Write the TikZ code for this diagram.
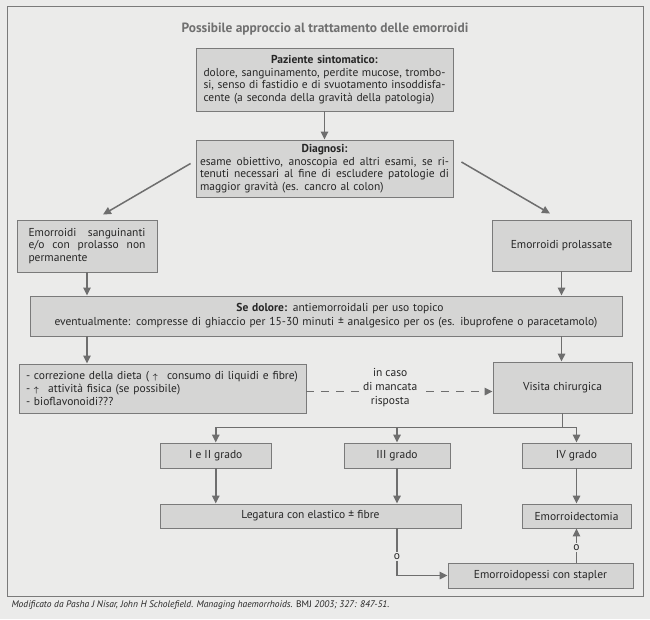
\documentclass[tikz,border=0pt]{standalone}
\usepackage{fontspec}
\setmainfont{PT Sans}
\usetikzlibrary{arrows.meta,calc}
\definecolor{bgpaper}{HTML}{EBEBEA}
\definecolor{boxfill}{HTML}{D5D5D4}
\definecolor{boxline}{HTML}{7A7A7A}
\definecolor{arrgray}{HTML}{6E6E6E}
\definecolor{txt}{HTML}{262626}
\definecolor{titlegray}{HTML}{707070}
\newcommand{\jline}[1]{\hbox to \linewidth{\spaceskip=0.25em plus 1fil minus 0.1em\relax #1}}
\newcommand{\lline}[1]{\hbox to \linewidth{#1\hfil}}
\newcommand{\centrato}[1]{\hbox to \linewidth{\hfil #1\hfil}}
\newcommand{\freccia}{{\fontsize{8.5}{8.5}\selectfont$\boldsymbol{\uparrow}$}}
\usepackage{amsmath}
\tikzset{
  boxnode/.style={draw=boxline, fill=boxfill, line width=0.9pt, inner sep=0pt, text=txt,
    font=\fontsize{11.5}{12.5}\selectfont},
  arr/.style={draw=arrgray, line width=1.5pt, -{Triangle[length=8pt,width=7.5pt]}},
  linea/.style={draw=arrgray, line width=1.5pt},
  olabel/.style={fill=bgpaper, inner sep=1.5pt, text=txt, font=\fontsize{11.5}{12}\selectfont},
}

\begin{document}
\begin{tikzpicture}[x=1pt,y=-1pt]
  %%%%% START %%%%%
  \fill[bgpaper] (0,0) rectangle (650,619);
  \useasboundingbox (0,0) rectangle (650,619);
  \draw[boxline, line width=0.9pt] (7,6) rectangle (643,596);

  \node[text=titlegray, font=\fontsize{13.4}{15}\selectfont\bfseries] (titolo) at (325,29)
    {Possibile approccio al trattamento delle emorroidi};

  \node[boxnode, minimum width=257, minimum height=63, text width=242] (paziente) at (324.5,79.5) {%
    \centrato{\bfseries Paziente sintomatico:}
    \jline{dolore, sanguinamento, perdite mucose, trombo-}
    \jline{si, senso di fastidio e di svuotamento insoddisfa-}
    \lline{cente (a seconda della gravità della patologia)}};

  \node[boxnode, minimum width=257, minimum height=57, text width=249] (diagnosi) at (324.5,168.5) {%
    \centrato{\bfseries Diagnosi:}
    \jline{esame obiettivo, anoscopia ed altri esami, se ri-}
    \jline{tenuti necessari al fine di escludere patologie di}
    \lline{maggior gravità (es. cancro al colon)}};

  \node[boxnode, minimum width=140, minimum height=52, text width=117] (sang) at (87,246) {%
    \jline{Emorroidi sanguinanti}
    \jline{e/o con prolasso non}
    \lline{permanente}};

  \node[boxnode, minimum width=139, minimum height=51] (prol) at (561.5,245.5) {Emorroidi prolassate};

  \node[boxnode, minimum width=592, minimum height=40, text width=582,
    font=\fontsize{11.5}{14}\selectfont] (dolore) at (326,316) {%
    \centrato{\hskip 28pt\textbf{Se dolore:} antiemorroidali per uso topico}
    \centrato{eventualmente: compresse di ghiaccio per 15-30 minuti ± analgesico per os (es. ibuprofene o paracetamolo)}};

  \node[boxnode, minimum width=287, minimum height=49, text width=273,
    font=\fontsize{11.5}{13}\selectfont] (dieta) at (162.5,388.5) {%
    \lline{- correzione della dieta ( \freccia\ consumo di liquidi e fibre)}
    \lline{- \freccia\ attività fisica (se possibile)}
    \lline{- bioflavonoidi???}};

  \node[boxnode, minimum width=139, minimum height=51] (visita) at (562.5,387.5) {Visita chirurgica};

  \node[boxnode, minimum width=111.5, minimum height=25] (gr12) at (215.75,455.5) {I e II grado};
  \node[boxnode, minimum width=106, minimum height=25] (gr3) at (397,455.5) {III grado};
  \node[boxnode, minimum width=109, minimum height=25] (gr4) at (576.5,455.5) {IV grado};

  \node[boxnode, minimum width=301, minimum height=24] (leg) at (310.5,516) {Legatura con elastico ± fibre};
  \node[boxnode, minimum width=109, minimum height=24] (ect) at (576.5,516) {Emorroidectomia};
  \node[boxnode, minimum width=185, minimum height=25] (pessi) at (540.5,575.5) {Emorroidopessi con stapler};

  % connettori
  \draw[arr] (paziente) -- (diagnosi);
  \draw[arr] ($(diagnosi.west)+(-5,-5)$) -- ($(sang.north)+(16,-5)$);
  \draw[arr] ($(diagnosi.east)+(8,-6.5)$) -- ($(prol.north)+(-11.5,-6)$);
  \draw[arr] (sang) -- (dolore.north -| sang);
  \draw[arr] (prol) -- (dolore.north -| prol);
  \draw[arr] (dolore.south -| sang) -- (dieta.north -| sang);
  \draw[arr] (dolore.south -| prol) -- (visita.north -| prol);

  \draw[arr, dash pattern=on 8pt off 7pt] ($(dieta.east)+(0,3)$) -- ($(dieta.east -| visita.west)+(0,3)$);
  \node[olabel, font=\fontsize{11.5}{14}\selectfont, align=center] (mancata)
    at ($(dieta.east)!0.45!(visita.west)$) {in caso\\di mancata\\risposta};

  \coordinate (snodo) at ($(visita.south)+(0,14)$);
  \draw[linea] (visita.south) -- (snodo);
  \draw[arr] (snodo) -| (gr12.north);
  \draw[arr] (snodo) -| (gr4.north);
  \draw[arr] (gr3.north |- snodo) -- (gr3.north);

  \draw[arr] (gr12) -- (leg.north -| gr12);
  \draw[arr] (gr3) -- (leg.north -| gr3);
  \draw[arr] (gr4) -- (ect);

  \coordinate (gomito) at (gr3 |- pessi);
  \draw[arr] (leg.south -| gr3) -- node[olabel, pos=0.59] (o1) {o} (gomito) -- (pessi.west);
  \draw[arr] (pessi.north -| ect) -- node[olabel, pos=0.43] (o2) {o} (ect.south);

  \node[anchor=west, text=txt, font=\fontsize{9.5}{11}\selectfont\itshape] (fonte) at (8,605)
    {Modificato da Pasha J Nisar, John H Scholefield. Managing haemorrhoids. {\upshape BMJ} 2003; 327: 847-51.};
  %%%%% END %%%%%
\end{tikzpicture}
\end{document}
